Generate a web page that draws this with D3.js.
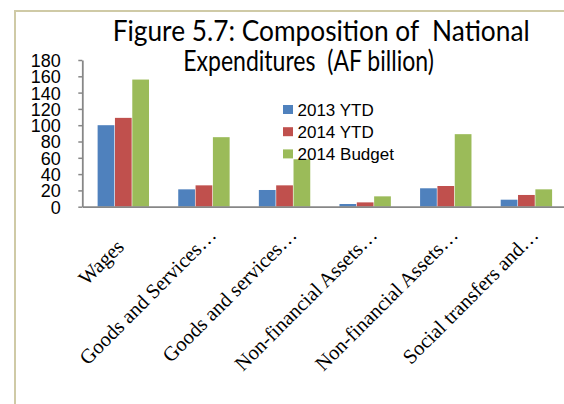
<!DOCTYPE html>
<html>
<head>
<meta charset="utf-8">
<script src="https://cdn.jsdelivr.net/npm/d3@7"></script>
<style>
  html, body { margin: 0; padding: 0; background: #fff; }
  svg { display: block; }
  text { white-space: pre; }
</style>
</head>
<body>
<svg id="chart" width="564" height="404"></svg>
<script>
const titleLines = ["Figure 5.7: Composition of  National", "Expenditures  (AF billion)"];
const categories = ["Wages", "Goods and Services…", "Goods and services…", "Non-financial Assets…", "Non-financial Assets…", "Social transfers and…"];
const seriesNames = ["2013 YTD", "2014 YTD", "2014 Budget"];
const seriesColors = ["#4f81bd", "#c0504d", "#9bbb59"];
const values2013YTD = [100, 21.3, 20.5, 3.3, 22.6, 8.6];
const values2014YTD = [109, 26.2, 26.2, 5.3, 25.4, 14.4];
const values2014Budget = [156, 85.3, 58.2, 12.7, 89, 21.3];
const yTicks = [0, 20, 40, 60, 80, 100, 120, 140, 160, 180];

const seriesValues = [values2013YTD, values2014YTD, values2014Budget];
const svg = d3.select("#chart");

// frame
svg.append("path")
  .attr("d", "M15,404 V11 H564")
  .attr("fill", "none").attr("stroke", "#cfcaa6").attr("stroke-width", 2);

const y = d3.scaleLinear().domain([0, 180]).range([206.7, 60]);
const x0 = d3.scaleBand().domain(d3.range(categories.length)).range([82.3, 566]).padding(0);
const bw = x0.bandwidth();
const x1 = d3.scaleBand().domain(d3.range(seriesNames.length)).range([0, bw * 0.645]).padding(0);
const groupOffset = bw * 0.19;

// y axis
const yAxis = d3.axisLeft(y).tickValues(yTicks).tickSize(4).tickSizeOuter(0).tickPadding(17);
const gy = svg.append("g").attr("transform", "translate(82.3,0)").call(yAxis);
gy.select(".domain").attr("stroke", "#878787").attr("stroke-width", 1.8);
gy.selectAll(".tick line").attr("stroke", "#878787").attr("stroke-width", 1.5);
gy.selectAll(".tick text")
  .attr("font-family", "'Liberation Sans', Arial, sans-serif")
  .attr("font-size", 18).attr("fill", "#000").attr("x", -21.6).attr("dy", "0.36em");

// bars
seriesValues.forEach((vals, si) => {
  svg.append("g").selectAll("rect").data(vals).enter().append("rect")
    .attr("x", (d, i) => x0(i) + groupOffset + x1(si))
    .attr("width", x1.bandwidth() - 0.6)
    .attr("y", d => y(d))
    .attr("height", d => y(0) - y(d))
    .attr("fill", seriesColors[si]);
});

// x axis line
const xAxis = d3.axisBottom(x0).tickSize(0).tickFormat("");
const gx = svg.append("g").attr("transform", `translate(0,${y(0)})`).call(xAxis);
gx.select(".domain").attr("stroke", "#878787").attr("stroke-width", 1.8);

// x labels (rotated, truncated ones are pushed along their baseline)
svg.append("g").selectAll("text").data(categories).enter().append("text")
  .attr("transform", (d, i) => `translate(${x0(i) + bw / 2 + 2.5},${248}) rotate(-45)`)
  .attr("text-anchor", "end")
  .attr("x", d => d.endsWith("…") ? 16.5 : 0)
  .attr("font-family", "'Liberation Serif', 'Times New Roman', serif")
  .attr("font-size", 20.5)
  .attr("fill", "#000")
  .text(d => d);

// legend
const lg = svg.append("g");
seriesNames.forEach((n, i) => {
  const yy = 105 + i * 22.2;
  lg.append("rect").attr("x", 283).attr("y", yy).attr("width", 10).attr("height", 9).attr("fill", seriesColors[i]);
  lg.append("text").attr("x", 297.5).attr("y", yy + 4.7).attr("dy", "0.36em")
    .attr("font-family", "'Liberation Sans', Arial, sans-serif")
    .attr("font-size", 17).attr("fill", "#000").text(n);
});

// title
const tFont = "Lato, 'Open Sans', sans-serif";
const tl = [{x: 112.7, y: 41.3, w: 417}, {x: 183.3, y: 71.3, w: 250.5}];
titleLines.forEach((t, i) => {
  svg.append("text").attr("x", tl[i].x).attr("y", tl[i].y)
    .attr("font-family", tFont).attr("font-size", 28).attr("fill", "#000")
    .attr("textLength", tl[i].w).attr("lengthAdjust", "spacingAndGlyphs")
    .text(t);
});
</script>
</body>
</html>
